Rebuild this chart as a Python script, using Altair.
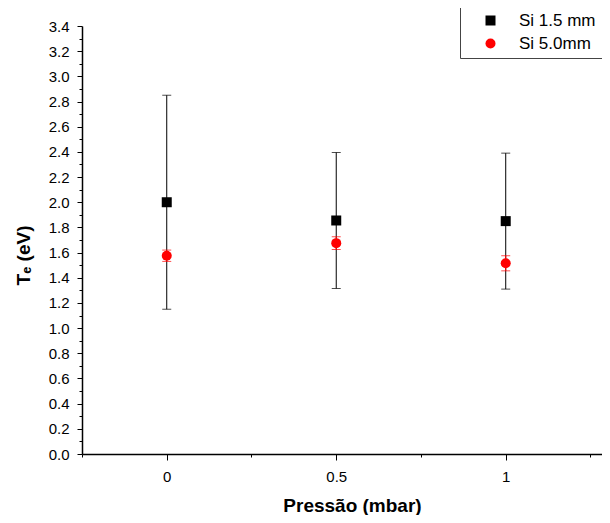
import altair as alt
import pandas as pd

pressure = [0.0, 0.5, 1.0]
series_names = ["Si 1.5 mm", "Si 5.0mm"]
te_15 = [2.00, 1.855, 1.85]
err_15 = [0.85, 0.54, 0.54]
te_50 = [1.575, 1.675, 1.515]
err_50 = [0.045, 0.05, 0.06]

x_major = [0, 0.5, 1]
x_minor = [-0.25, 0.25, 0.75, 1.25]
y_major = [round(i * 0.2, 1) for i in range(18)]
y_minor = [round(0.1 + i * 0.2, 1) for i in range(17)]

rows = []
for name, vals, errs in [(series_names[0], te_15, err_15), (series_names[1], te_50, err_50)]:
    for p, v, e in zip(pressure, vals, errs):
        rows.append({"series": name, "p": p, "te": v, "lo": v - e, "hi": v + e})
df = pd.DataFrame(rows)
df15 = df[df.series == series_names[0]]
df50 = df[df.series == series_names[1]]

FONT = "Liberation Sans"
xscale = alt.Scale(domain=[-0.25, 1.284], nice=False, zero=False)
yscale = alt.Scale(domain=[0, 3.4], nice=False, zero=False)

x_major_axis = alt.Axis(values=x_major, format=".1~f", orient="bottom", tickSize=6,
                        labelPadding=9, labelFontSize=15, labelFont=FONT, labelColor="black",
                        title="Pressão (mbar)", titleFont=FONT, titleFontSize=19,
                        titleFontWeight="bold", titleX=270, titleY=57, titleBaseline="alphabetic",
                        titleColor="black", grid=False, domainColor="black", domainWidth=1.5,
                        tickColor="black", tickWidth=1)
x_minor_axis = alt.Axis(values=x_minor, orient="bottom", tickSize=3, labels=False, domain=False,
                        title=None, grid=False, tickColor="black", tickWidth=1)
y_major_axis = alt.Axis(values=y_major, format=".1f", orient="left", tickSize=5,
                        labelPadding=8, labelFontSize=15, labelFont=FONT, labelColor="black",
                        title="Tₑ (eV)", titleFont=FONT, titleFontSize=19, titleFontWeight="bold",
                        titleAngle=-90, titleX=-59, titleY=229, titleBaseline="middle",
                        titleColor="black", grid=False, domainColor="black", domainWidth=1.5,
                        tickColor="black", tickWidth=1)
y_minor_axis = alt.Axis(values=y_minor, orient="left", tickSize=3, labels=False, domain=False,
                        title=None, grid=False, tickColor="black", tickWidth=1)

# layer carrying the major axes (invisible marks)
axes_major = alt.Chart(df).mark_point(opacity=0).encode(
    x=alt.X("p:Q", scale=xscale, axis=x_major_axis),
    y=alt.Y("te:Q", scale=yscale, axis=y_major_axis),
)
rule15 = alt.Chart(df15).mark_rule(color="black", strokeWidth=1).encode(
    x=alt.X("p:Q", scale=xscale, axis=x_minor_axis),
    y=alt.Y("lo:Q", scale=yscale, axis=y_minor_axis),
    y2="hi:Q",
)
cap15_lo = alt.Chart(df15).mark_tick(color="black", orient="horizontal", size=9, thickness=1).encode(
    x=alt.X("p:Q", scale=xscale, axis=None), y=alt.Y("lo:Q", scale=yscale, axis=None))
cap15_hi = alt.Chart(df15).mark_tick(color="black", orient="horizontal", size=9, thickness=1).encode(
    x=alt.X("p:Q", scale=xscale, axis=None), y=alt.Y("hi:Q", scale=yscale, axis=None))
rule50 = alt.Chart(df50).mark_rule(color="red", strokeWidth=1).encode(
    x=alt.X("p:Q", scale=xscale, axis=None), y=alt.Y("lo:Q", scale=yscale, axis=None), y2="hi:Q")
cap50_lo = alt.Chart(df50).mark_tick(color="red", orient="horizontal", size=9, thickness=1).encode(
    x=alt.X("p:Q", scale=xscale, axis=None), y=alt.Y("lo:Q", scale=yscale, axis=None))
cap50_hi = alt.Chart(df50).mark_tick(color="red", orient="horizontal", size=9, thickness=1).encode(
    x=alt.X("p:Q", scale=xscale, axis=None), y=alt.Y("hi:Q", scale=yscale, axis=None))

points = alt.Chart(df).mark_point(filled=True, opacity=1, size=100).encode(
    x=alt.X("p:Q", scale=xscale, axis=None),
    y=alt.Y("te:Q", scale=yscale, axis=None),
    color=alt.Color("series:N", scale=alt.Scale(domain=series_names, range=["black", "red"]),
                    legend=alt.Legend(title=None, labelFontSize=17)),
    shape=alt.Shape("series:N", scale=alt.Scale(domain=series_names, range=["square", "circle"]),
                    legend=alt.Legend(title=None, labelFontSize=17)),
)

chart = alt.layer(axes_major, rule15, cap15_lo, cap15_hi, rule50, cap50_lo, cap50_hi, points).resolve_axis(
    x="independent", y="independent"
).properties(
    width=520, height=428,
    autosize=alt.AutoSizeParams(type="none"),
    padding={"left": 74, "top": 18, "right": 0, "bottom": 61},
).configure_view(stroke=None).configure_axis(
    labelFontSize=15, labelFont=FONT, labelColor="black",
).configure_legend(
    orient="none", legendX=378, legendY=-20, strokeColor="#444", strokeWidth=1,
    fillColor="white", padding=6, symbolOffset=16, labelOffset=20, labelFontSize=17,
    labelFont=FONT, labelColor="black", symbolSize=100, rowPadding=5, cornerRadius=0,
)

chart.save("out.html", embed_options={"renderer": "svg", "actions": False})
